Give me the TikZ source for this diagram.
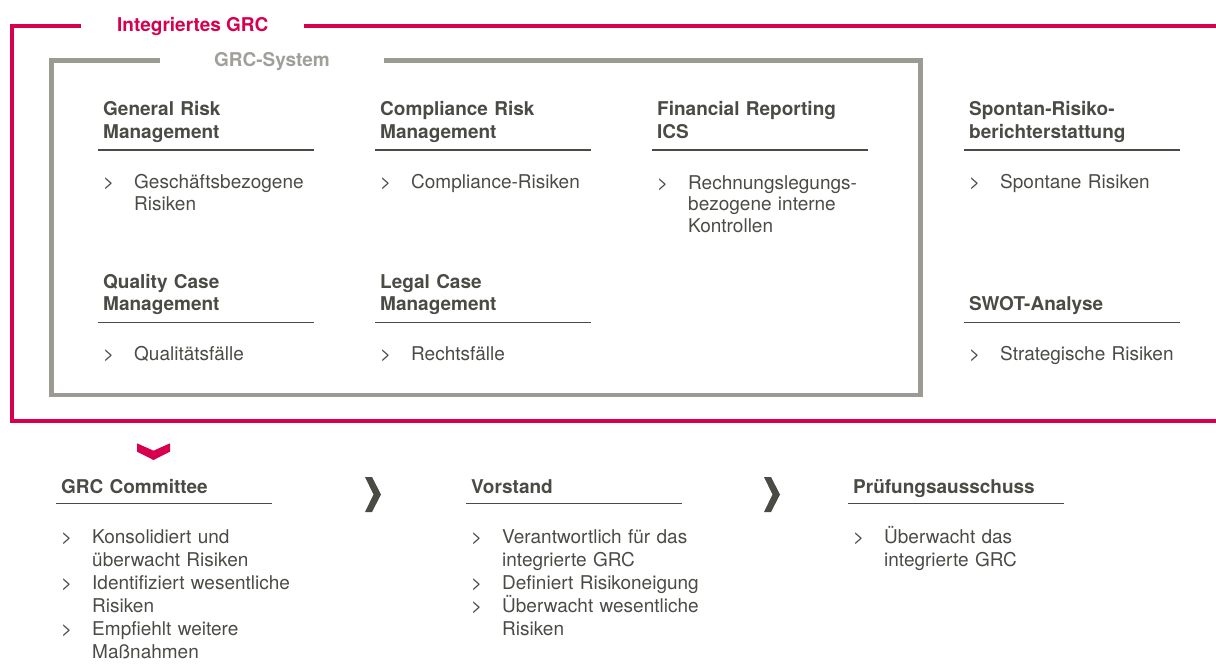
\documentclass[tikz,border=0pt]{standalone}
\usepackage{fontspec}
\setmainfont{TeX Gyre Heros}
\usetikzlibrary{positioning}

\definecolor{grcred}{HTML}{D7004F}
\definecolor{framegrey}{HTML}{9B9B93}
\definecolor{labelgrey}{HTML}{A09F99}
\definecolor{textgrey}{HTML}{4B4B46}

% one list entry: marker and hanging text
\newcommand{\bul}[1]{\hangindent=31pt\hangafter=1\noindent\makebox[31pt][l]{>}#1\par}

\begin{document}
\begin{tikzpicture}[x=1pt, y=-1pt,
    frametitle/.style={anchor=base west, fill=white, inner ysep=3pt, font=\bfseries\fontsize{19}{22}\selectfont},
    head/.style={anchor=base west, inner sep=0pt, text width=230pt, align=left, text=textgrey, font=\bfseries\fontsize{19}{22.5}\selectfont},
    body/.style={anchor=base west, inner sep=0pt, text width=240pt, text=textgrey, font=\fontsize{19}{21.5}\selectfont},
    lowbody/.style={body, font=\fontsize{19}{23}\selectfont},
    rule/.style={draw=textgrey, line width=1.5pt},
    chevron/.style={fill=textgrey}]
  \useasboundingbox (0,0) rectangle (1216,670);

  % outer frame and inner frame
  \draw[grcred, line width=4.5pt] (1216,26) -- (12,26) -- (12,421) -- (1216,421);
  \node[frametitle, text=grcred, inner xsep=36pt] (integ) at (81,31.7) {Integriertes GRC};
  \draw[framegrey, line width=4.5pt] (51.5,60.5) rectangle (920.5,395);
  \node[frametitle, text=labelgrey, inner xsep=54pt] (system) at (160,66.7) {GRC-System};

  % upper blocks
  \node[head] (grm)   at (103,115.7) {General Risk\\Management};
  \node[head] (crm)   at (380,115.7) {Compliance Risk\\Management};
  \node[head] (frics) at (657,115.7) {Financial Reporting\\ICS};
  \node[head] (spont) at (969,115.7) {Spontan-Risiko-\\berichterstattung};
  \node[head] (qcm)   at (103,288.3) {Quality Case\\Management};
  \node[head] (lcm)   at (380,288.3) {Legal Case\\Management};
  \node[head] (swot)  at (969,310.5) {SWOT-Analyse};

  \node[body] (grmlist)   at (103,188.5) {\bul{Geschäftsbezogene\newline Risiken}};
  \node[body] (crmlist)   at (380,188.5) {\bul{Compliance-Risiken}};
  \node[body] (fricslist) at (657,189)   {\bul{Rechnungslegungs-\newline bezogene interne\newline Kontrollen}};
  \node[body] (spontlist) at (969,188.5) {\bul{Spontane Risiken}};
  \node[body] (qcmlist)   at (103,360)   {\bul{Qualitätsfälle}};
  \node[body] (lcmlist)   at (380,360)   {\bul{Rechtsfälle}};
  \node[body] (swotlist)  at (969,360)   {\bul{Strategische Risiken}};

  % lower blocks
  \node[head] (committee) at (61,493)  {GRC Committee};
  \node[head] (vorstand)  at (471,493) {Vorstand};
  \node[head] (pruefung)  at (853,493) {Prüfungsausschuss};

  \node[lowbody] (committeelist) at (61,543.3)
    {\bul{Konsolidiert und\newline überwacht Risiken}\bul{Identifiziert wesentliche\newline Risiken}\bul{Empfiehlt weitere\newline Maßnahmen}};
  \node[lowbody] (vorstandlist) at (471,543.3)
    {\bul{Verantwortlich für das\newline integrierte GRC}\bul{Definiert Risikoneigung}\bul{Überwacht wesentliche\newline Risiken}};
  \node[lowbody] (pruefunglist) at (853,543.3)
    {\bul{Überwacht das\newline integrierte GRC}};

  % heading rules
  \foreach \x/\y in {103/150, 380/150, 657/150, 969/150, 103/322.5, 380/322.5, 969/322.5, 61/503.3, 471/503.3, 853/503.3}
    \draw[rule] (\x-5,\y) -- (\x+211,\y);

  % chevrons
  \fill[grcred] (137,443.3) -- (153.5,450.7) -- (170,443.3) -- (170,451.7) -- (153.5,460) -- (137,451.7) -- cycle;
  \foreach \cx in {365,764}
    \fill[chevron] (\cx,477) -- (\cx+7,477) -- (\cx+16,494.5) -- (\cx+7,512) -- (\cx,512) -- (\cx+8.5,494.5) -- cycle;
\end{tikzpicture}
\end{document}
